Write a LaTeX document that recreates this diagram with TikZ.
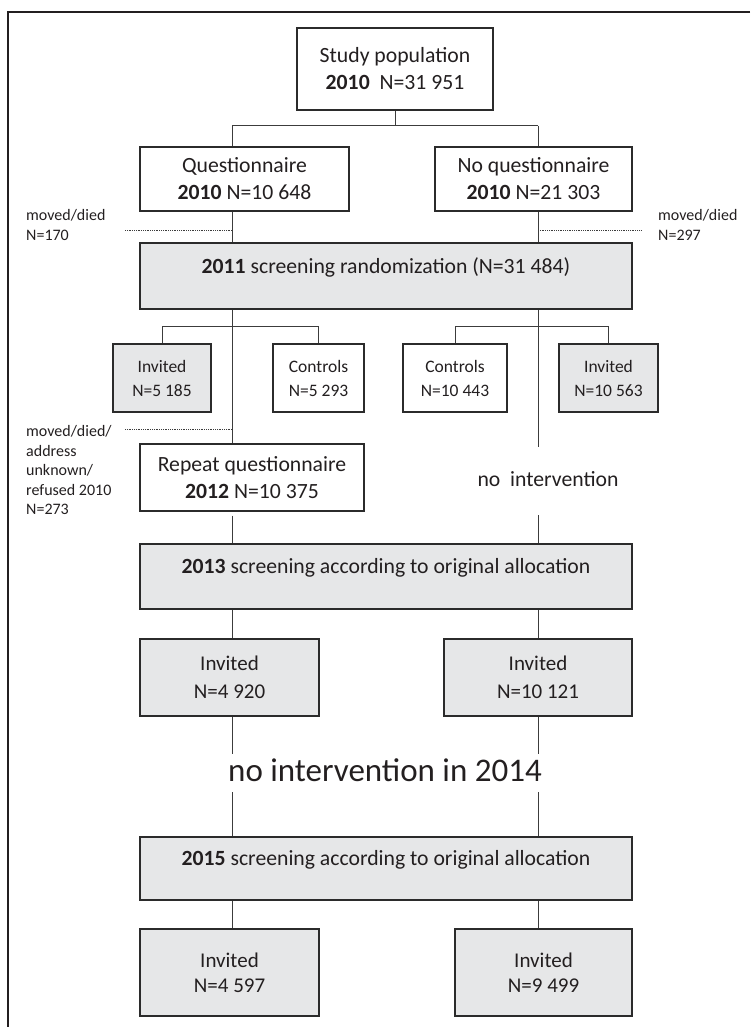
\documentclass[tikz,border=0pt]{standalone}
\usepackage{fontspec}
\setmainfont{Carlito}
\definecolor{grayf}{HTML}{E6E7E8}
\definecolor{boxc}{HTML}{2B2B2B}
\definecolor{linec}{HTML}{3C3C3C}
\definecolor{textc}{HTML}{231F20}
\begin{document}
\begin{tikzpicture}[x=1pt,y=-1pt,
  box/.style={draw=boxc, line width=1.3pt, fill=white, align=center, inner sep=0pt, text=textc,
              font=\fontsize{21.7}{27}\selectfont},
  gbox/.style={box, fill=grayf},
  sfont/.style={font=\fontsize{17.5}{24}\selectfont},
  conn/.style={draw=linec, line width=1pt},
  dotl/.style={draw=linec, line width=0.8pt, dash pattern=on 0.9pt off 0.9pt},
  note/.style={align=left, anchor=west, inner sep=0pt, text=textc, font=\fontsize{16}{19.5}\selectfont},
  plain/.style={align=center, inner sep=0pt, text=textc, font=\fontsize{21.7}{27}\selectfont},
]
\useasboundingbox (0,0) rectangle (750,1027);
\draw[line width=2.3pt, draw=textc] (750,12) -- (8,12) -- (8,1027);

% trunk x positions
\coordinate (Lx) at (232,0);
\coordinate (Rx) at (538,0);
\coordinate (fork1) at (0,126);

% boxes
\node[box, minimum width=196, minimum height=82] (study) at (395,69) {Study population\\\textbf{2010}~~N=31 951};
\node[box, minimum width=209, minimum height=64] (q) at (244.5,179) {Questionnaire\\\textbf{2010} N=10 648};
\node[box, minimum width=197, minimum height=64] (nq) at (533.5,179) {No questionnaire\\\textbf{2010} N=21 303};
\node[gbox, minimum width=492, minimum height=66] (r2011) at (386,276) {};
\node[plain] at ([yshift=9pt]r2011.center) {\textbf{2011} screening randomization (N=31 484)};

\node[gbox, sfont, minimum width=98, minimum height=68] (inv1) at (162,378) {Invited\\N=5 185};
\node[box, sfont, minimum width=91, minimum height=68] (ctl1) at (318.5,378) {Controls\\N=5 293};
\node[box, sfont, minimum width=104, minimum height=68] (ctl2) at (455,378) {Controls\\N=10 443};
\node[gbox, sfont, minimum width=99, minimum height=68] (inv2) at (608.5,378) {Invited\\N=10 563};

\node[box, minimum width=224, minimum height=67] (rep) at (252,477.5) {Repeat questionnaire\\\textbf{2012} N=10 375};
\node[plain, minimum height=64] (noint) at (548,479) {no~~intervention};

\node[gbox, minimum width=492, minimum height=65] (r2013) at (386,576.5) {};
\node[plain] at ([yshift=9pt]r2013.center) {\textbf{2013} screening according to original allocation};

\node[gbox, font=\fontsize{21}{28}\selectfont, minimum width=179, minimum height=77] (inv3) at (229.5,677.5) {Invited\\N=4 920};
\node[gbox, font=\fontsize{21}{28}\selectfont, minimum width=188, minimum height=77] (inv4) at (538,677.5) {Invited\\N=10 121};

\node[plain, font=\fontsize{33}{38}\selectfont, text height=21pt, text depth=5pt, minimum height=38] (nomid) at (385,773) {no intervention in 2014};

\node[gbox, minimum width=492, minimum height=63] (r2015) at (386,868.5) {};
\node[plain] at ([yshift=9pt]r2015.center) {\textbf{2015} screening according to original allocation};

\node[gbox, font=\fontsize{21}{25}\selectfont, minimum width=179, minimum height=87] (inv5) at (229.5,972.5) {Invited\\N=4 597};
\node[gbox, font=\fontsize{21}{25}\selectfont, minimum width=177, minimum height=87] (inv6) at (543.5,972.5) {Invited\\N=9 499};

% side notes
\node[note] (n1) at (26,225) {moved/died\\N=170};
\node[note] (n2) at (658,225) {moved/died\\N=297};
\node[note] (n3) at (26,470) {moved/died/\\address\\unknown/\\refused 2010\\N=273};
\coordinate (d1) at (125,230);
\coordinate (d2) at (641,230);
\coordinate (d3) at (125,429);

% connectors
\draw[conn] (study.south) -- (study.south |- fork1);
\draw[conn] (Lx |- fork1) -- (Rx |- fork1);
\draw[conn] (Lx |- fork1) -- (Lx |- q.north);
\draw[conn] (Rx |- fork1) -- (Rx |- nq.north);
\draw[conn] (Lx |- q.south) -- (Lx |- r2011.north);
\draw[conn] (Rx |- nq.south) -- (Rx |- r2011.north);
\draw[dotl] (d1) -- (Lx |- d1);
\draw[dotl] (Rx |- d2) -- (d2);

\draw[conn] (inv1.north) -- ++(0,-17) -| (ctl1.north);
\draw[conn] (ctl2.north) -- ++(0,-17) -| (inv2.north);
\draw[conn] (Lx |- r2011.south) -- (Lx |- rep.north);
\draw[conn] (Rx |- r2011.south) -- (Rx |- noint.north);
\draw[dotl] (d3) -- (Lx |- d3);

\draw[conn] ([yshift=-4pt]Lx |- rep.south) -- (Lx |- r2013.north);
\draw[conn] ([yshift=-4pt]Rx |- noint.south) -- (Rx |- r2013.north);
\draw[conn] (Lx |- r2013.south) -- (Lx |- inv3.north);
\draw[conn] (Rx |- r2013.south) -- (Rx |- inv4.north);
\draw[conn] (Lx |- inv3.south) -- (Lx |- nomid.north);
\draw[conn] (Rx |- inv4.south) -- (Rx |- nomid.north);
\draw[conn] (Lx |- nomid.south) -- (Lx |- r2015.north);
\draw[conn] (Rx |- nomid.south) -- (Rx |- r2015.north);
\draw[conn] (Lx |- r2015.south) -- (Lx |- inv5.north);
\draw[conn] (Rx |- r2015.south) -- (Rx |- inv6.north);
\end{tikzpicture}
\end{document}
